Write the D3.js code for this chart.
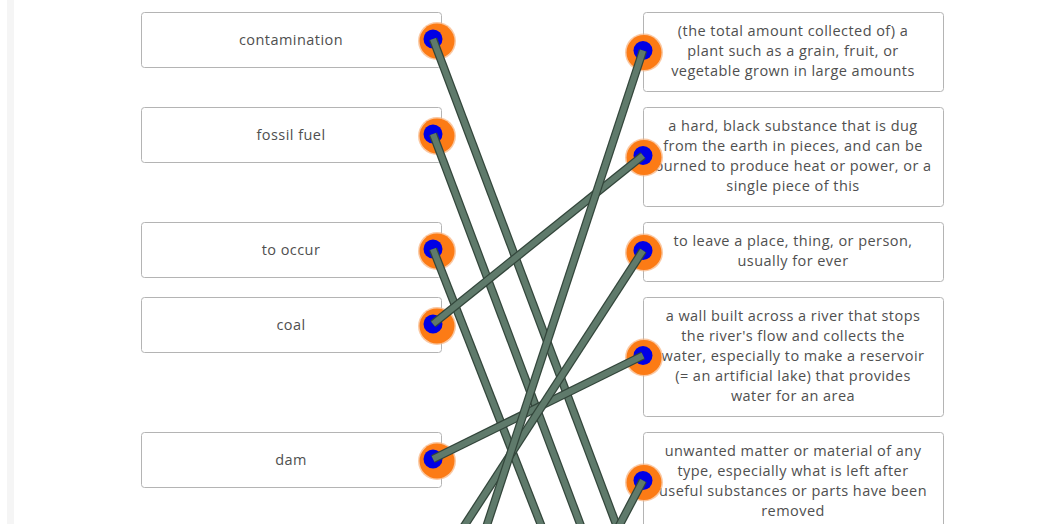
<!DOCTYPE html>
<html>
<head>
<meta charset="utf-8">
<script src="https://cdn.jsdelivr.net/npm/d3@7"></script>
<style>
  html, body { margin: 0; padding: 0; background: #fff; overflow: hidden; }
  svg { display: block; }
</style>
</head>
<body>
<div id="chart"></div>
<script>
// ── Data ─────────────────────────────────────────────────────────────────────
const terms = ["contamination", "fossil fuel", "to occur", "coal", "dam"];

const definitions = [
  ["(the total amount collected of) a", "plant such as a grain, fruit, or", "vegetable grown in large amounts"],
  ["a hard, black substance that is dug", "from the earth in pieces, and can be", "burned to produce heat or power, or a", "single piece of this"],
  ["to leave a place, thing, or person,", "usually for ever"],
  ["a wall built across a river that stops", "the river's flow and collects the", "water, especially to make a reservoir", "(= an artificial lake) that provides", "water for an area"],
  ["unwanted matter or material of any", "type, especially what is left after", "useful substances or parts have been", "removed"]
];

// rows below the visible area (only their line counts matter, they are cut off)
const hiddenLineCounts = [4, 2, 4, 3];

// matches drawn by the user: [left row, right row]
const matches = [[0, 5], [1, 6], [2, 7], [3, 1], [4, 3], [5, 2], [6, 0], [8, 4]];

// ── Layout ───────────────────────────────────────────────────────────────────
const W = 1052, H = 524;
const LINE_H = 20, BOX_PAD = 19, GAP = 16, TOP = 12;
const LEFT_X = 141, RIGHT_X = 643, BOX_W = 300, LEFT_H = 55;
const DOT_L = 433, DOT_R = 643;
const FONT = '"Open Sans", "Noto Sans", sans-serif';
const FS = 14.5, LS = 0.45;

const lineCounts = definitions.map(d => d.length).concat(hiddenLineCounts);
const heights = lineCounts.map(n => n * LINE_H + BOX_PAD);
const tops = [TOP, ...d3.cumsum(heights, h => h + GAP).map(c => TOP + c)];

const leftDotY = i => tops[i] + 27;
const rightDotY = i => tops[i] + heights[i] / 2 - 1;

const svg = d3.select('#chart').append('svg')
  .attr('width', W).attr('height', H)
  .attr('viewBox', `0 0 ${W} ${H}`);

// faint page edge on the left
svg.append('rect').attr('x', 7).attr('y', 0).attr('width', 7).attr('height', H)
  .attr('fill', '#f5f5f5');

// ── Left boxes ───────────────────────────────────────────────────────────────
const gL = svg.append('g');
terms.forEach((t, i) => {
  gL.append('rect')
    .attr('x', LEFT_X + 0.5).attr('y', tops[i] + 0.5)
    .attr('width', BOX_W).attr('height', LEFT_H)
    .attr('rx', 3).attr('fill', '#fff').attr('stroke', '#b4b4b4');
  gL.append('text')
    .attr('x', LEFT_X + BOX_W / 2).attr('y', tops[i] + LEFT_H / 2 + 2)
    .attr('text-anchor', 'middle').attr('dominant-baseline', 'middle')
    .attr('font-family', FONT).attr('font-size', FS).attr('letter-spacing', LS)
    .attr('fill', '#4f4f4f')
    .text(t);
});

// ── Right boxes ──────────────────────────────────────────────────────────────
const gR = svg.append('g');
definitions.forEach((lines, i) => {
  gR.append('rect')
    .attr('x', RIGHT_X + 0.5).attr('y', tops[i] + 0.5)
    .attr('width', BOX_W).attr('height', heights[i])
    .attr('rx', 3).attr('fill', '#fff').attr('stroke', '#b4b4b4');
  const cy = tops[i] + heights[i] / 2 + 1;
  lines.forEach((ln, k) => {
    gR.append('text')
      .attr('x', RIGHT_X + BOX_W / 2)
      .attr('y', cy + (k - (lines.length - 1) / 2) * LINE_H)
      .attr('text-anchor', 'middle').attr('dominant-baseline', 'middle')
      .attr('font-family', FONT).attr('font-size', FS).attr('letter-spacing', LS)
      .attr('fill', '#4f4f4f')
      .text(ln);
  });
});

// ── Connector dots ───────────────────────────────────────────────────────────
function dot(g, cx, cy, dx) {
  g.append('circle').attr('cx', cx + dx).attr('cy', cy + 2).attr('r', 19)
    .attr('fill', '#f8b07a').attr('opacity', 0.7);
  g.append('circle').attr('cx', cx + dx).attr('cy', cy + 2).attr('r', 17.5)
    .attr('fill', '#fc7b15');
  g.append('circle').attr('cx', cx).attr('cy', cy).attr('r', 9.5)
    .attr('fill', '#0000e6');
}
const gD = svg.append('g');
terms.forEach((_, i) => dot(gD, DOT_L, leftDotY(i), 4));
definitions.forEach((_, i) => dot(gD, DOT_R, rightDotY(i), 1));

// ── Match lines ──────────────────────────────────────────────────────────────
const line = d3.line();
const gM = svg.append('g');
matches.forEach(([l, r]) => {
  const pts = [[DOT_L, leftDotY(l)], [DOT_R, rightDotY(r)]];
  gM.append('path').attr('d', line(pts))
    .attr('fill', 'none').attr('stroke', '#33463b').attr('stroke-width', 8.5);
  gM.append('path').attr('d', line(pts))
    .attr('fill', 'none').attr('stroke', '#5f7a6b').attr('stroke-width', 6);
});
</script>
</body>
</html>
